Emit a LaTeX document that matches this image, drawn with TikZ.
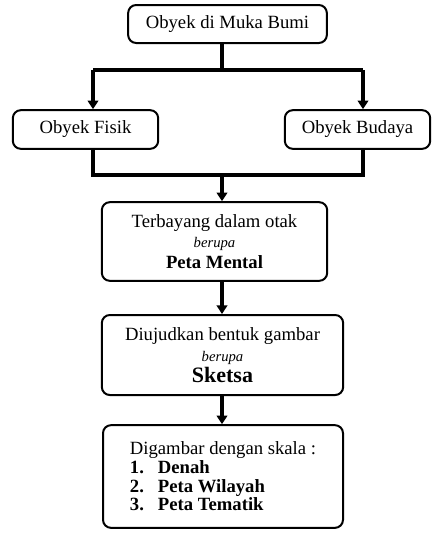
\documentclass[tikz,border=0pt]{standalone}
\usepackage{fontspec}
\setmainfont{Liberation Serif}
\usetikzlibrary{arrows.meta,positioning}
\newcommand\teks{\fontsize{14}{15.5}\selectfont}
\newcommand\kecil{\fontsize{11}{15.5}\selectfont}
\newcommand\besar{\fontsize{16.5}{15.5}\selectfont}
\tikzset{
  box/.style={draw, line width=1.5pt, rounded corners=6pt, align=center,
              inner sep=2pt, font=\teks},
  garis/.style={line width=2.3pt},
  flow/.style={-{Triangle[length=6.5pt,width=8pt]}, line width=2.3pt},
}

\begin{document}
\begin{tikzpicture}[x=0.75pt, y=-0.75pt]
\useasboundingbox (0,0) rectangle (443,547);

\node[box, minimum width=149pt, minimum height=28.5pt] (bumi) at (227.5,24)
  {Obyek di Muka Bumi};
\node[box, minimum width=109pt, minimum height=29pt] (fisik) at (85.5,129.5)
  {Obyek Fisik};
\node[box, minimum width=109pt, minimum height=29pt] (budaya) at (357.5,129.5)
  {Obyek Budaya};
\node[box, minimum width=169pt, minimum height=59pt] (mental) at (214.5,241.5)
  {Terbayang dalam otak\\{\kecil\itshape berupa}\\\textbf{Peta Mental}};
\node[box, minimum width=181pt, minimum height=60pt] (sketsa) at (222.5,355)
  {Diujudkan bentuk gambar\\{\kecil\itshape berupa}\\{\besar\bfseries Sketsa}};
\node[box, minimum width=180pt, minimum height=77pt, align=left,
      font=\fontsize{14}{14}\selectfont] (skala) at (223,476.5)
  {Digambar dengan skala :\\
   \makebox[21pt][l]{\textbf{1.}}\textbf{Denah}\\
   \makebox[21pt][l]{\textbf{2.}}\textbf{Peta Wilayah}\\
   \makebox[21pt][l]{\textbf{3.}}\textbf{Peta Tematik}};

% cabang atas
\coordinate (split) at (222,70);
\coordinate (kiri) at (93,70);
\coordinate (kanan) at (363,70);
\coordinate (merge) at (222,175);

\draw[garis] (bumi.south -| split) -- (split);
\draw[garis] (kiri) -- (kanan);
\draw[flow] (kiri) -- (fisik.north -| kiri);
\draw[flow] (kanan) -- (budaya.north -| kanan);

% cabang bawah
\draw[garis] (fisik.south -| kiri) |- (merge) -| (budaya.south -| kanan);
\draw[flow] (merge) -- (mental.north -| merge);
\draw[flow] (mental.south -| merge) -- (sketsa.north -| merge);
\draw[flow] (sketsa.south -| merge) -- (skala.north -| merge);

\end{tikzpicture}
\end{document}
